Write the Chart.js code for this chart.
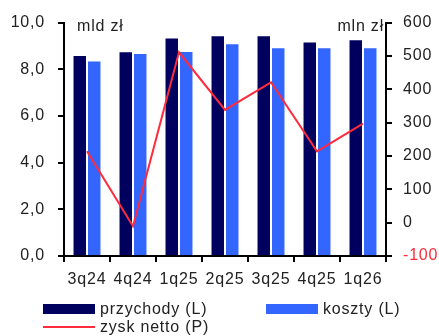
<!DOCTYPE html>
<html>
<head>
<meta charset="utf-8">
<script src="https://cdn.jsdelivr.net/npm/chart.js@4/dist/chart.umd.min.js"></script>
<style>
html,body{margin:0;padding:0;background:#fff;}
#wrap{width:439px;height:336px;position:relative;}
</style>
</head>
<body>
<div id="wrap"><canvas id="c" width="439" height="336"></canvas></div>
<script>
const categories = ['3q24','4q24','1q25','2q25','3q25','4q25','1q26'];
const przychody = [8.57, 8.73, 9.32, 9.41, 9.41, 9.15, 9.24];
const koszty = [8.33, 8.66, 8.74, 9.07, 8.90, 8.90, 8.90];
const zyskNetto = [214, -11, 511, 338, 421, 214, 297];
const leftTicks = [0, 2, 4, 6, 8, 10];
const rightTicks = [-100, 0, 100, 200, 300, 400, 500, 600];
const leftUnit = 'mld zł';
const rightUnit = 'mln zł';

const NAVY = '#00005e';
const BLUE = '#3366ff';
const RED = '#ff2a3c';
const TXT = '#222222';
const FONT = 'Liberation Sans, Arial, sans-serif';

const spacingPlugin = {
  id: 'spacing',
  beforeDraw(chart) { chart.ctx.letterSpacing = '0.8px'; }
};

const extrasPlugin = {
  id: 'extras',
  afterDraw(chart) {
    const ctx = chart.ctx;
    const area = chart.chartArea;
    ctx.save();
    ctx.letterSpacing = '0.8px';
    ctx.font = '16px ' + FONT;
    ctx.fillStyle = TXT;
    ctx.textBaseline = 'middle';
    ctx.textAlign = 'left';
    ctx.fillText(leftUnit, area.left + 13, area.top + 4);
    ctx.textAlign = 'right';
    ctx.fillText(rightUnit, area.right - 2, area.top + 4);
    // legend
    const ds = chart.data.datasets;
    const items = [
      {d: ds[0], x: 43, y: 309},
      {d: ds[1], x: 266, y: 309},
      {d: ds[2], x: 43, y: 327}
    ];
    ctx.textAlign = 'left';
    items.forEach(it => {
      if (it.d.type === 'line') {
        ctx.strokeStyle = it.d.borderColor;
        ctx.lineWidth = 2;
        ctx.beginPath();
        ctx.moveTo(it.x, it.y);
        ctx.lineTo(it.x + 52, it.y);
        ctx.stroke();
      } else {
        ctx.fillStyle = it.d.backgroundColor;
        ctx.fillRect(it.x, it.y - 5, 52, 10);
      }
      ctx.fillStyle = TXT;
      ctx.fillText(it.d.label, it.x + 57, it.y + 1);
    });
    ctx.restore();
  }
};

new Chart(document.getElementById('c'), {
  type: 'bar',
  data: {
    labels: categories,
    datasets: [
      {label: 'przychody (L)', data: przychody, backgroundColor: NAVY, yAxisID: 'y', order: 2,
       categoryPercentage: 0.63, barPercentage: 0.86},
      {label: 'koszty (L)', data: koszty, backgroundColor: BLUE, yAxisID: 'y', order: 2,
       categoryPercentage: 0.63, barPercentage: 0.86},
      {label: 'zysk netto (P)', type: 'line', data: zyskNetto, borderColor: RED, borderWidth: 2,
       pointRadius: 0, yAxisID: 'y1', order: 1, tension: 0}
    ]
  },
  options: {
    responsive: false,
    animation: false,
    events: [],
    layout: {padding: {left: 0, right: 0, top: 20, bottom: 40}},
    plugins: {legend: {display: false}, tooltip: {enabled: false}},
    scales: {
      x: {
        offset: true,
        grid: {offset: true, drawOnChartArea: false, drawTicks: true, tickLength: 6, color: '#000', lineWidth: 2},
        border: {color: '#000', width: 2},
        ticks: {color: TXT, font: {family: FONT, size: 16}, padding: 8, maxRotation: 0},
        afterFit(s) { s.height = 40; }
      },
      y: {
        position: 'left',
        min: 0, max: 10,
        afterBuildTicks(s) { s.ticks = leftTicks.map(v => ({value: v})); },
        grid: {drawOnChartArea: false, drawTicks: true, tickLength: 6, color: '#000', lineWidth: 2},
        border: {color: '#000', width: 2},
        ticks: {color: TXT, font: {family: FONT, size: 16}, padding: 13,
          callback: v => v.toFixed(1).replace('.', ',')},
        afterFit(s) { s.width = 64; }
      },
      y1: {
        position: 'right',
        min: -100, max: 600,
        afterBuildTicks(s) { s.ticks = rightTicks.map(v => ({value: v})); },
        grid: {drawOnChartArea: false, drawTicks: true, tickLength: 6, color: '#000', lineWidth: 2},
        border: {color: '#000', width: 2},
        ticks: {font: {family: FONT, size: 16}, padding: 11,
          color: c => (c.tick && c.tick.value < 0) ? RED : TXT,
          callback: v => String(v)},
        afterFit(s) { s.width = 53; }
      }
    }
  },
  plugins: [spacingPlugin, extrasPlugin]
});
</script>
</body>
</html>
